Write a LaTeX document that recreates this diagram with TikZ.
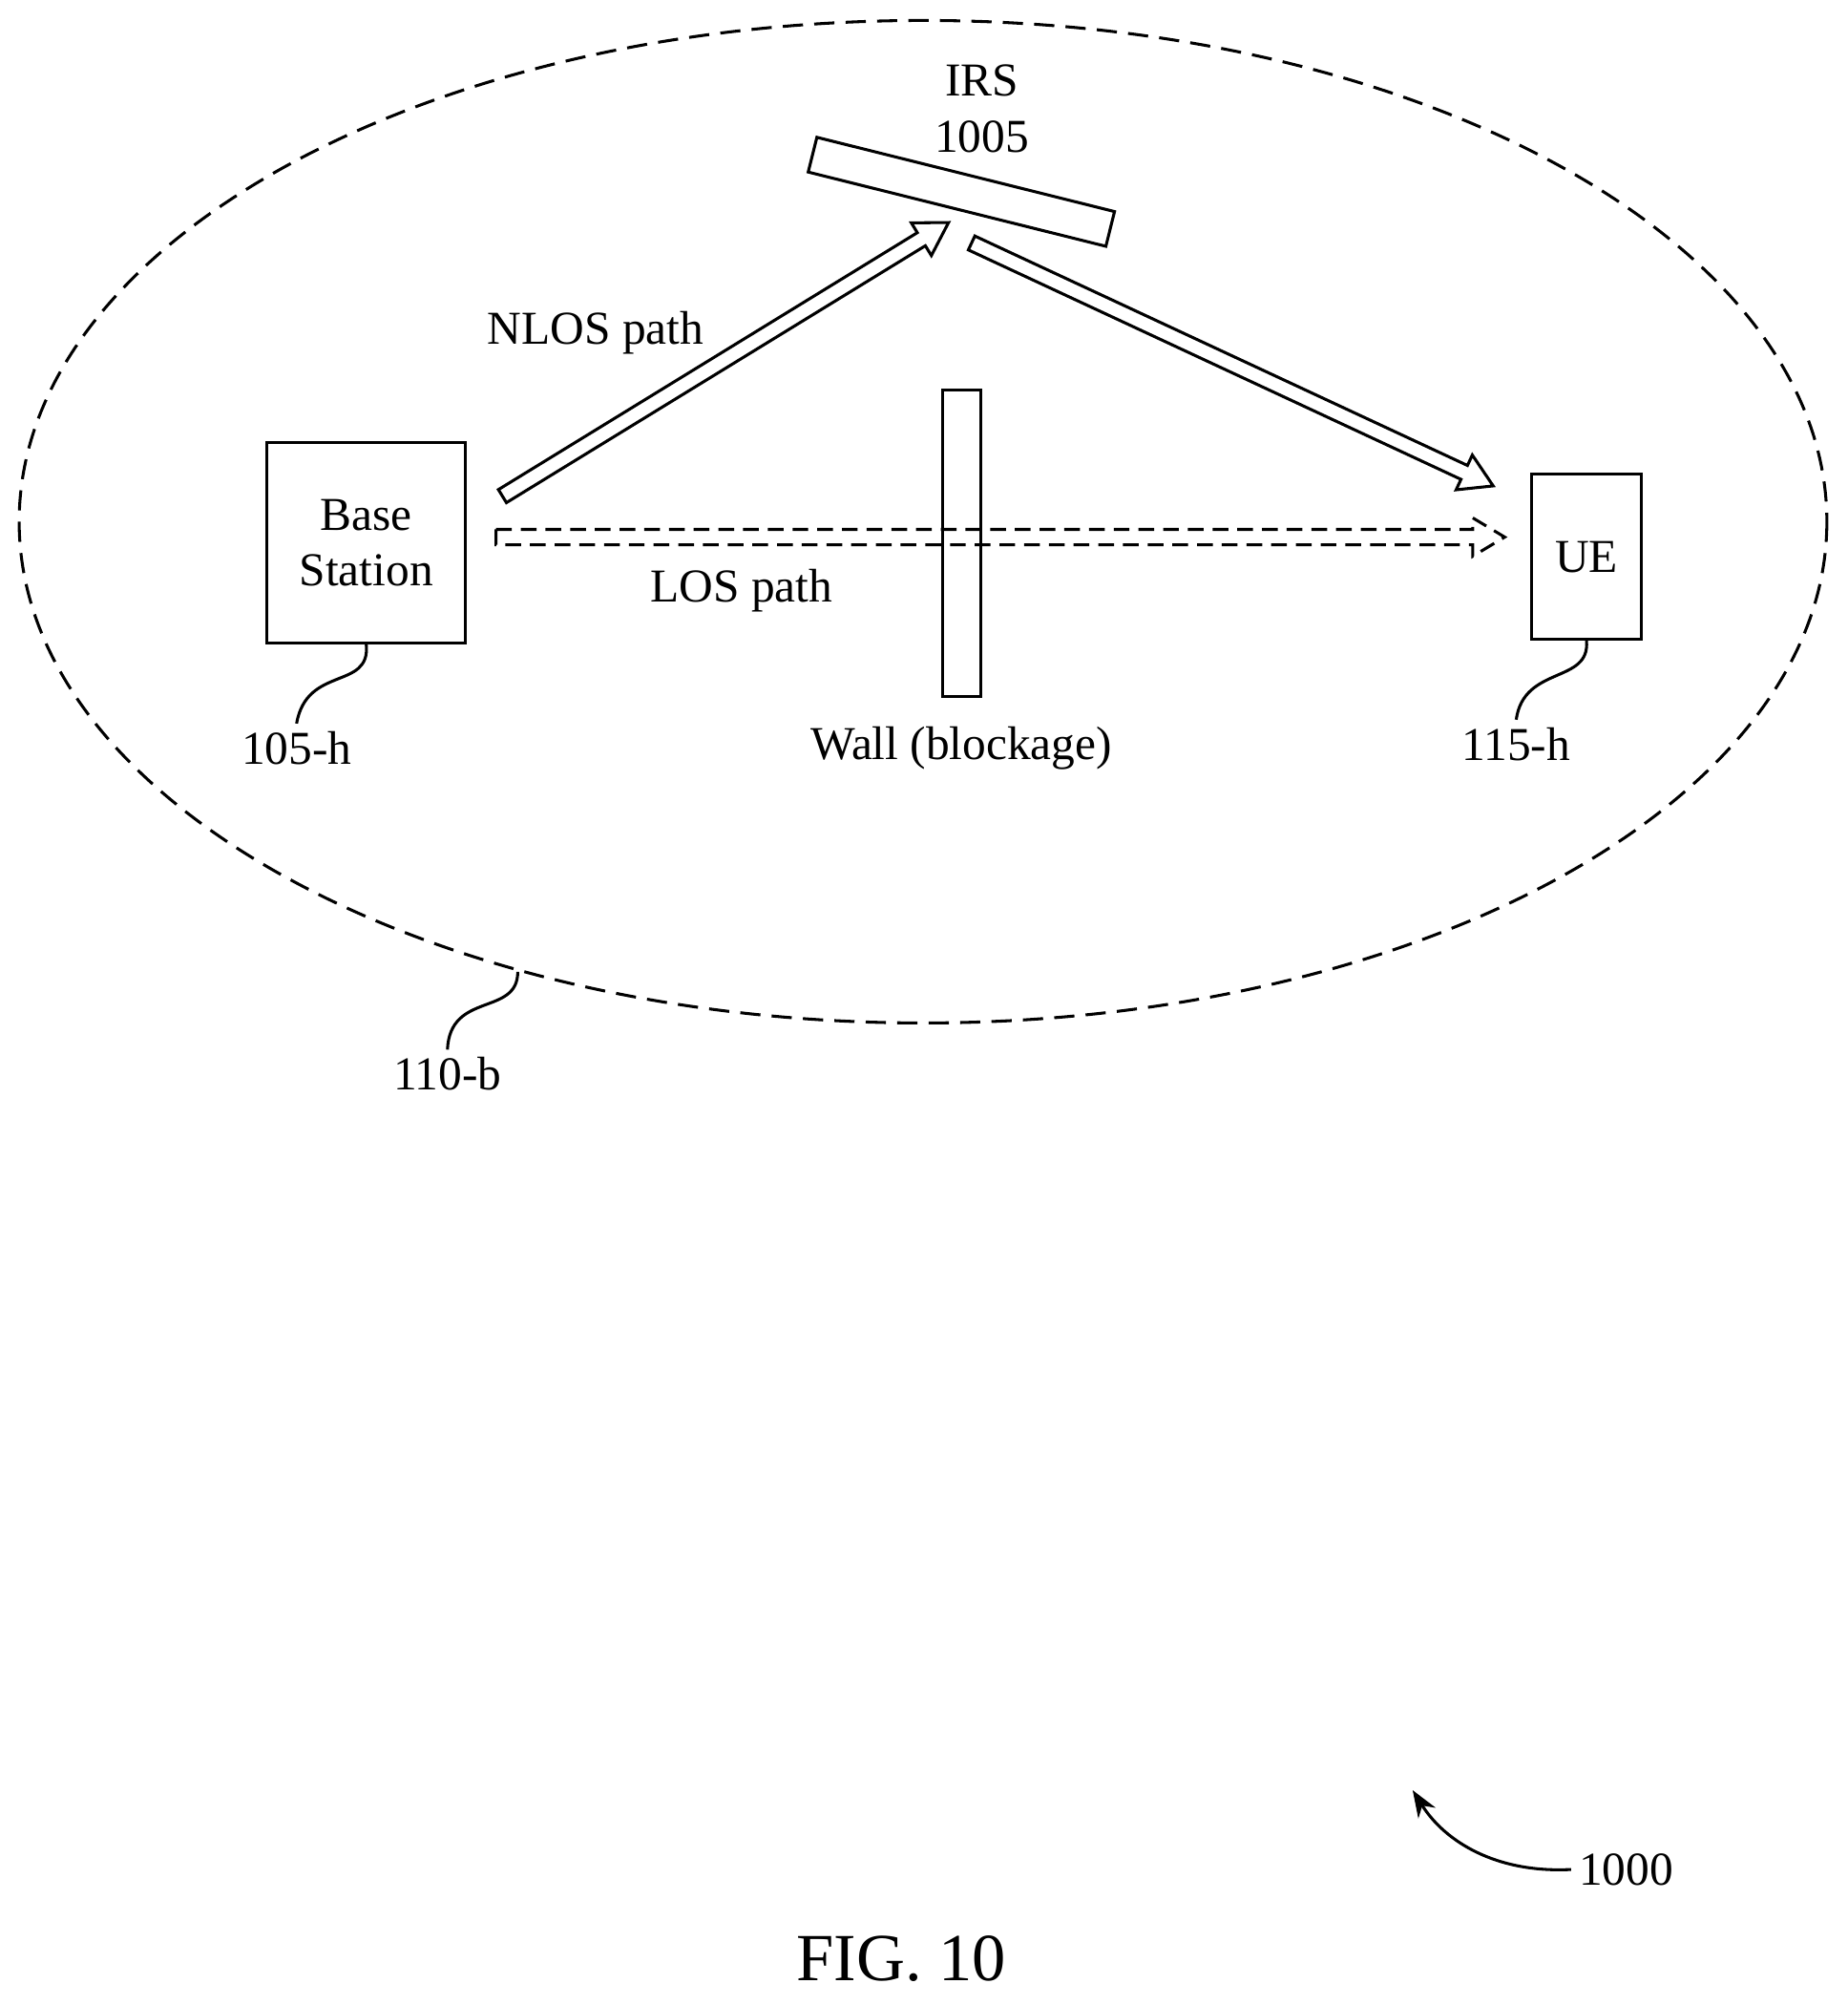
\documentclass[tikz,border=0pt]{standalone}
\usepackage{fontspec}
\setmainfont{Liberation Serif}
\usetikzlibrary{calc,arrows.meta}

\tikzset{
  box/.style={draw, line width=1.3pt, inner sep=0pt},
  lbl/.style={font=\fontsize{21}{25}\selectfont, align=center},
  lead/.style={line width=1.3pt},
}
% hollow block arrow between two named coordinates
\newcommand{\hollowarrow}[3][]{%
  \coordinate (h) at ($(#3)!0.5cm!(#2)$);
  \draw[line width=1.3pt, line join=miter, #1]
    ($(#2)!0.12cm!90:(#3)$) -- ($(h)!0.12cm!90:(#3)$) -- ($(h)!0.3cm!90:(#3)$)
    -- (#3) -- ($(h)!0.3cm!-90:(#3)$) -- ($(h)!0.12cm!-90:(#3)$)
    -- ($(#2)!0.12cm!-90:(#3)$) -- cycle;}

\begin{document}
\begin{tikzpicture}[x=0.02cm, y=-0.02cm]
  \useasboundingbox (0,0) rectangle (1445,1568);
  % cell
  \draw[lead, dashed, dash pattern=on 9pt off 5pt] (722,408) ellipse [x radius=707, y radius=392];
  % devices
  \node[box, minimum width=3.1cm, minimum height=3.14cm, lbl] (bs) at (286.5,424.5) {Base\\Station};
  \node[box, minimum width=1.72cm, minimum height=2.58cm, lbl] (ue) at (1241,435.5) {UE};
  \node[box, minimum width=0.6cm, minimum height=4.8cm] (wall) at (752,425) {};
  \node[box, minimum width=4.8cm, minimum height=0.56cm, rotate=-14] (irs) at (752,150) {};
  % labels
  \node[lbl] (irsl) at (768,63) {IRS};
  \node[lbl] (irsn) at (768,107) {1005};
  \node[lbl] (walll) at (752,585) {Wall (blockage)};
  \node[lbl] (nlos) at (466,260) {NLOS path};
  \node[lbl] (los) at (580,462) {LOS path};
  \node[lbl] (bsn) at (232,585) {105-h};
  \node[lbl] (uen) at (1186,582) {115-h};
  \node[lbl] (celln) at (350,840) {110-b};
  \node[lbl] (fign) at (1272,1462) {1000};
  \node[font=\fontsize{30}{34}\selectfont] (fig) at (705,1532) {FIG. 10};
  % paths
  \coordinate (n1) at (393,388); \coordinate (n2) at (742,174);
  \coordinate (r1) at (760,190); \coordinate (r2) at (1168,380);
  \coordinate (l1) at (388,420); \coordinate (l2) at (1177,420);
  \hollowarrow{n1}{n2}
  \hollowarrow{r1}{r2}
  \hollowarrow[dashed, dash pattern=on 7pt off 4pt]{l1}{l2}
  % leaders
  \coordinate (c1) at (405,760);
  \draw[lead] (bs.south) .. controls (290,540) and (240,520) .. (bsn.north);
  \draw[lead] (ue.south) .. controls (1244,535) and (1192,520) .. (uen.north);
  \draw[lead] (c1) .. controls (405,795) and (352,775) .. (celln.north);
  \coordinate (a1) at (1105,1400);
  \draw[lead, -{Stealth[length=12pt,width=9pt]}] (fign.west) .. controls (1170,1465) and (1130,1440) .. (a1);
\end{tikzpicture}
\end{document}
